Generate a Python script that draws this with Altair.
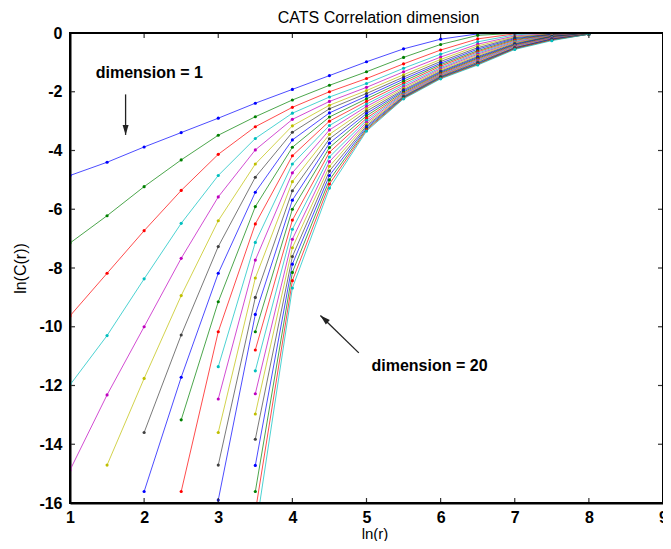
import altair as alt
import pandas as pd

# ---- data ----
x_vals = [1, 1.5, 2, 2.5, 3, 3.5, 4, 4.5, 5, 5.5, 6, 6.5, 7, 7.5, 8]
N = None
dim01 = [-4.85, -4.40, -3.88, -3.39, -2.90, -2.39, -1.92, -1.45, -0.98, -0.54, -0.21, -0.03, 0.0, 0.0, 0.0]
dim02 = [-7.15, -6.22, -5.23, -4.32, -3.48, -2.85, -2.28, -1.78, -1.32, -0.83, -0.39, -0.08, -0.01, 0.0, 0.0]
dim03 = [-9.63, -8.18, -6.73, -5.36, -4.13, -3.19, -2.53, -2.00, -1.55, -1.05, -0.58, -0.20, -0.03, 0.0, 0.0]
dim04 = [-11.98, -10.30, -8.37, -6.48, -4.85, -3.59, -2.73, -2.18, -1.72, -1.20, -0.72, -0.30, -0.06, -0.01, 0.0]
dim05 = [-14.88, -12.32, -10.00, -7.67, -5.58, -3.98, -2.94, -2.33, -1.85, -1.32, -0.82, -0.38, -0.10, -0.02, 0.0]
dim06 = [N, -14.71, -11.76, -8.94, -6.39, -4.46, -3.16, -2.46, -1.96, -1.42, -0.90, -0.44, -0.13, -0.03, 0.0]
dim07 = [N, N, -13.60, -10.28, -7.27, -4.91, -3.38, -2.58, -2.06, -1.50, -0.97, -0.50, -0.16, -0.04, 0.0]
dim08 = [N, N, -15.61, -11.72, -8.18, -5.42, -3.64, -2.72, -2.15, -1.57, -1.03, -0.55, -0.19, -0.05, -0.01]
dim09 = [N, N, N, -13.17, -9.15, -5.91, -3.89, -2.86, -2.24, -1.64, -1.08, -0.60, -0.22, -0.06, -0.01]
dim10 = [N, N, N, -15.61, -10.17, -6.50, -4.18, -3.00, -2.33, -1.71, -1.13, -0.64, -0.25, -0.07, -0.01]
dim11 = [N, N, N, N, -11.36, -7.13, -4.46, -3.15, -2.42, -1.77, -1.18, -0.68, -0.28, -0.08, -0.01]
dim12 = [N, N, N, N, -12.46, -7.73, -4.76, -3.30, -2.50, -1.83, -1.22, -0.72, -0.31, -0.09, -0.01]
dim13 = [N, N, N, N, -13.60, -8.34, -5.06, -3.45, -2.58, -1.88, -1.26, -0.76, -0.33, -0.10, -0.02]
dim14 = [N, N, N, N, -14.71, -9.00, -5.37, -3.60, -2.66, -1.93, -1.30, -0.80, -0.36, -0.11, -0.02]
dim15 = [N, N, N, N, -15.90, -9.58, -5.69, -3.75, -2.74, -1.97, -1.33, -0.83, -0.38, -0.12, -0.02]
dim16 = [N, N, N, N, N, -10.17, -6.00, -3.90, -2.82, -2.01, -1.36, -0.86, -0.40, -0.13, -0.02]
dim17 = [N, N, N, N, N, -10.79, -6.37, -4.06, -2.90, -2.05, -1.39, -0.89, -0.42, -0.15, -0.03]
dim18 = [N, N, N, N, N, -11.50, -6.68, -4.22, -2.97, -2.08, -1.42, -0.92, -0.44, -0.16, -0.03]
dim19 = [N, N, N, N, N, -12.28, -7.02, -4.38, -3.04, -2.11, -1.44, -0.95, -0.46, -0.17, -0.03]
dim20 = [N, N, N, N, N, -12.97, -7.31, -4.54, -3.10, -2.14, -1.46, -0.98, -0.48, -0.19, -0.03]
dim21 = [N, N, N, N, N, -13.83, -7.61, -4.70, -3.16, -2.16, -1.48, -1.00, -0.50, -0.20, -0.04]
dim22 = [N, N, N, N, N, -14.72, -7.87, -4.85, -3.21, -2.18, -1.50, -1.03, -0.51, -0.21, -0.04]
dim23 = [N, N, N, N, N, -15.61, -8.15, -5.00, -3.26, -2.20, -1.52, -1.05, -0.53, -0.23, -0.04]
dim24 = [N, N, N, N, N, -16.30, -8.43, -5.14, -3.30, -2.22, -1.54, -1.07, -0.54, -0.24, -0.04]
dim25 = [N, N, N, N, N, -17.00, -8.68, -5.28, -3.34, -2.24, -1.56, -1.09, -0.56, -0.26, -0.04]

x_ticks = [1, 2, 3, 4, 5, 6, 7, 8, 9]
y_ticks = [-16, -14, -12, -10, -8, -6, -4, -2, 0]
x_inner_ticks = [2, 3, 4, 5, 6, 7, 8]
y_inner_ticks = [-14, -12, -10, -8, -6, -4, -2]

color_cycle = ["#0000ff", "#008000", "#ff0000", "#00bfbf", "#bf00bf", "#bfbf00", "#404040"]

title_text = ["CATS Correlation dimension"]

ann_text = ["dimension = 1", "dimension = 20"]
ann_x = [2.07, 5.85]
ann_y = [-1.52, -11.5]

arrow_x0 = [1.75, 4.896]
arrow_y0 = [-2.09, -10.89]
arrow_x1 = [1.75, 4.378]
arrow_y1 = [-3.47, -9.62]
arrow_angle = [180, 312]

# ---- build tables ----
series = [dim01, dim02, dim03, dim04, dim05, dim06, dim07, dim08, dim09, dim10,
          dim11, dim12, dim13, dim14, dim15, dim16, dim17, dim18, dim19, dim20,
          dim21, dim22, dim23, dim24, dim25]
rows = []
for i, s in enumerate(series, start=1):
    for xv, yv in zip(x_vals, s):
        if yv is not None:
            rows.append({"dim": f"{i:02d}", "lnr": xv, "lnC": yv})
df = pd.DataFrame(rows)
dim_names = [f"{i:02d}" for i in range(1, len(series) + 1)]
dim_colors = [color_cycle[(i - 1) % 7] for i in range(1, len(series) + 1)]

PLOT_W, PLOT_H = 593, 470
FONT = "Liberation Sans"
X_MIN, X_MAX = x_ticks[0], x_ticks[-1]
Y_MIN, Y_MAX = y_ticks[0], y_ticks[-1]
TICK_DX = (X_MAX - X_MIN) * 5 / PLOT_W   # 5 px inward tick, in data units
TICK_DY = (Y_MAX - Y_MIN) * 5 / PLOT_H

xscale = alt.Scale(domain=[X_MIN, X_MAX], nice=False, zero=False)
yscale = alt.Scale(domain=[Y_MIN, Y_MAX], nice=False, zero=False)
cscale = alt.Scale(domain=dim_names, range=dim_colors)

x_axis = alt.Axis(values=x_ticks, title="ln(r)", labelExpr="'' + datum.value",
                  labelFlush=False, ticks=False, tickSize=0, grid=False,
                  domain=True, domainColor="black", domainWidth=2,
                  labelFont=FONT, labelFontSize=16, labelFontWeight="bold", labelColor="black",
                  labelPadding=6, titleFont=FONT, titleFontSize=15, titleFontWeight="normal",
                  titleColor="black", titleX=PLOT_W / 2 + 8, titleY=30, titleBaseline="middle")
y_axis = alt.Axis(values=y_ticks, title="ln(C(r))", labelExpr="'' + datum.value",
                  labelFlush=False, ticks=False, tickSize=0, grid=False,
                  domain=True, domainColor="black", domainWidth=2,
                  labelFont=FONT, labelFontSize=16, labelFontWeight="bold", labelColor="black",
                  labelPadding=8, titleFont=FONT, titleFontSize=16, titleFontWeight="normal",
                  titleColor="black", titleX=-50, titleY=PLOT_H / 2, titleBaseline="middle",
                  titleAlign="center")

X = alt.X("lnr:Q", scale=xscale, axis=x_axis)
Y = alt.Y("lnC:Q", scale=yscale, axis=y_axis)
C = alt.Color("dim:N", scale=cscale, legend=None)

lines = alt.Chart(df).mark_line(clip=True, strokeWidth=1, opacity=0.7).encode(x=X, y=Y, color=C)
pts = alt.Chart(df).mark_point(clip=True, filled=True, size=10, opacity=1).encode(x=X, y=Y, color=C)

# inward ticks, in data units
tick_rows = []
for t in x_inner_ticks:
    tick_rows.append({"lnr": t, "lnC": Y_MIN, "lnr2": t, "lnC2": Y_MIN + TICK_DY})
    tick_rows.append({"lnr": t, "lnC": Y_MAX, "lnr2": t, "lnC2": Y_MAX - TICK_DY})
for t in y_inner_ticks:
    tick_rows.append({"lnr": X_MIN, "lnC": t, "lnr2": X_MIN + TICK_DX, "lnC2": t})
    tick_rows.append({"lnr": X_MAX, "lnC": t, "lnr2": X_MAX - TICK_DX, "lnC2": t})
tick_df = pd.DataFrame(tick_rows)
ticks = alt.Chart(tick_df).mark_rule(color="#333333", strokeWidth=1.2).encode(
    x=X, y=Y, x2="lnr2:Q", y2="lnC2:Q")

# plot frame as a rectangle spanning the whole domain
frame_df = pd.DataFrame({"lnr": [X_MIN], "lnr2": [X_MAX], "lnC": [Y_MIN], "lnC2": [Y_MAX]})
frame = alt.Chart(frame_df).mark_rect(fillOpacity=0, stroke="black", strokeWidth=2,
                                      strokeOpacity=1).encode(
    x=X, y=Y, x2="lnr2:Q", y2="lnC2:Q")

ann = pd.DataFrame({"label": ann_text, "lnr": ann_x, "lnC": ann_y})
texts = alt.Chart(ann).mark_text(font=FONT, fontSize=16, fontWeight="bold", color="black",
                                 align="center", baseline="alphabetic").encode(x=X, y=Y, text="label:N")

arr = pd.DataFrame({"lnr": arrow_x0, "lnC": arrow_y0, "lnr2": arrow_x1, "lnC2": arrow_y1,
                    "hx": arrow_x1, "hy": arrow_y1, "ang": arrow_angle})
shafts = alt.Chart(arr).mark_rule(color="#222222", strokeWidth=1.3).encode(
    x=X, y=Y, x2="lnr2:Q", y2="lnC2:Q")
heads = alt.Chart(arr).mark_point(shape="M0,0L-0.3,1L0.3,1Z", filled=True, size=400,
                                  color="#222222", opacity=1).encode(
    x=alt.X("hx:Q", scale=xscale, axis=x_axis), y=alt.Y("hy:Q", scale=yscale, axis=y_axis),
    angle=alt.Angle("ang:Q", scale=None))

# chart title as a text mark placed just above the plot frame
ttl = alt.Chart(pd.DataFrame({"t": title_text})).mark_text(
    font=FONT, fontSize=16, fontWeight="normal", color="black",
    align="center", baseline="alphabetic").encode(
    text="t:N", x=alt.value(PLOT_W / 2 + 12), y=alt.value(-10))

chart = alt.layer(lines, pts, shafts, heads, texts, ttl, ticks, frame).properties(
    width=PLOT_W, height=PLOT_H,
    autosize=alt.AutoSizeParams(type="none"),
    padding={"left": 62, "top": 25, "right": 0, "bottom": 38},
).configure(background="white").configure_view(stroke="black", strokeWidth=2)

chart.save("out.html", embed_options={"renderer": "svg", "actions": False})
